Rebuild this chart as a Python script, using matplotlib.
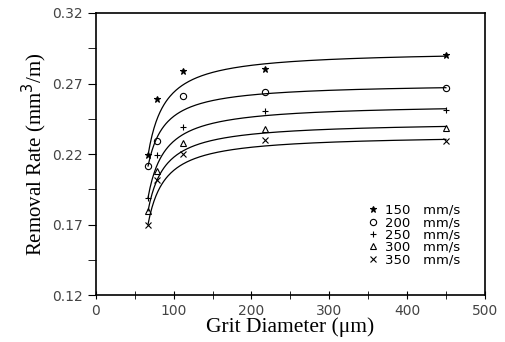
import numpy as np
import matplotlib.pyplot as plt
from matplotlib.ticker import MultipleLocator, FormatStrFormatter

# grit diameter (um) and removal rate (mm^3/m) per feed speed
grit = [67, 79, 112.5, 217, 450]
speeds = ['150', '200', '250', '300', '350']
rate_150 = [0.219, 0.259, 0.279, 0.280, 0.290]
rate_200 = [0.2115, 0.229, 0.261, 0.264, 0.2666]
rate_250 = [0.189, 0.219, 0.239, 0.2505, 0.2512]
rate_300 = [0.1796, 0.208, 0.228, 0.238, 0.2387]
rate_350 = [0.170, 0.2016, 0.220, 0.230, 0.2292]
markers = ['*', 'o', '+', '^', 'x']
yticks = [0.12, 0.17, 0.22, 0.27, 0.32]

rates = [rate_150, rate_200, rate_250, rate_300, rate_350]

fig = plt.figure(figsize=(5.05, 3.42), dpi=100)
ax = fig.add_axes([0.190, 0.137, 0.770, 0.825])

xs = np.array(grit, dtype=float)
xf = np.linspace(xs[0], xs[-1], 300)
w = [6, 1, 1, 3, 6]  # pin the trend line near the first and last points
for spd, r, m in zip(speeds, rates, markers):
    coef = np.polyfit(1.0 / (xs - 45), r, 1, w=w)
    ax.plot(xf, np.polyval(coef, 1.0 / (xf - 45)), color='black', lw=0.9)
    face = 'black' if m == '*' else 'none'
    ax.plot(xs, r, linestyle='none', marker=m, markersize=4.5,
            markerfacecolor=face, markeredgecolor='black', markeredgewidth=0.8,
            label=f'{spd}   mm/s')

ax.set_xlim(0, 500)
ax.set_ylim(0.12, 0.32)
ax.xaxis.set_major_locator(MultipleLocator(100))
ax.xaxis.set_minor_locator(MultipleLocator(50))
ax.set_yticks(yticks)
ax.set_yticks([0.145, 0.195, 0.245, 0.295], minor=True)
ax.yaxis.set_major_formatter(FormatStrFormatter('%.2f'))
ax.tick_params(axis='x', which='both', direction='inout', length=6, labelsize=10,
               labelcolor='#444444')
ax.tick_params(axis='y', which='both', direction='out', length=6, labelsize=10,
               labelcolor='#444444')
for s in ax.spines.values():
    s.set_linewidth(1.2)

ax.set_xlabel('Grit Diameter (\u03bcm)', family='Liberation Serif', fontsize=15.5,
              labelpad=-1)
ax.set_ylabel('Removal Rate (mm$^3$/m)', family='Liberation Serif', fontsize=15,
              labelpad=2)

ax.legend(loc='lower right', bbox_to_anchor=(0.96, 0.07), frameon=False,
          fontsize=9.5, handlelength=0.6, handletextpad=0.6, labelspacing=-0.05,
          borderpad=0.2)

fig.savefig('out.png', dpi=100)
